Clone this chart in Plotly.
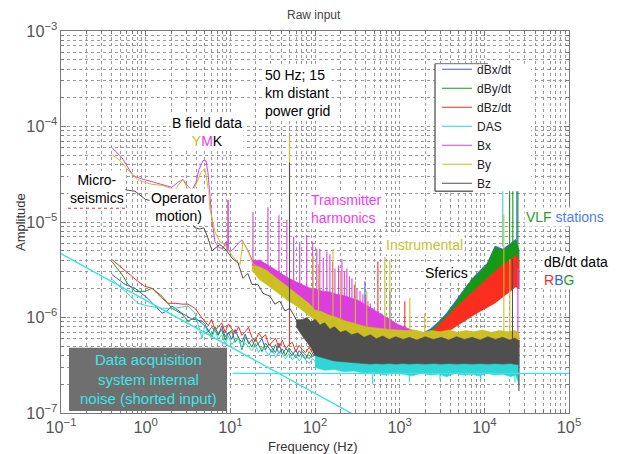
import plotly.graph_objects as go

FONT = "Liberation Sans, Arial, Helvetica, sans-serif"

# ---------------- colours ----------------
C_DBX = '#3a5ef6'
C_DBY = '#169a16'
C_DBZ = '#fb2d1f'
C_DAS = '#2fd6d6'
C_BX = '#dc3edc'
C_BY = '#cbbf22'
C_BZ = '#4f4f4f'

# ---------------- axis tick labels ----------------
x_tick_alias = {'1': '10<sup>0</sup>', '10': '10<sup>1</sup>'}

# ---------------- B field data (low frequency lines) ----------------
bx_f = [0.40, 0.525, 0.62, 0.71, 0.86, 1.06, 1.29, 1.6, 1.83, 2.04, 2.40, 2.76, 3.16, 3.52, 3.93, 4.26, 4.75,
        5.15, 5.44, 5.75, 6.07, 6.58, 7.33, 8.2, 8.87, 9.3, 9.4, 9.5, 9.9, 11.0, 12.0, 13.7, 15.7, 18.5, 21.2]
bx_a = [6.0e-5, 4.72e-5, 3.7e-5, 3.07e-5, 2.86e-5, 2.72e-5, 2.6e-5, 2.48e-5, 2.36e-5, 2.31e-5, 2.6e-5, 2.79e-5,
        2.36e-5, 2.15e-5, 2.6e-5, 3.54e-5, 4.39e-5, 4.39e-5, 3.3e-5, 1.73e-5, 1.05e-5, 6.2e-6, 5.4e-6, 5.25e-6,
        6.2e-6, 5.0e-6, 1.7e-5, 5.0e-6, 4.9e-6, 5.25e-6, 5.8e-6, 6.5e-6, 5.25e-6, 3.85e-6, 3.67e-6]

by_f = [0.40, 0.50, 0.585, 0.69, 0.81, 0.98, 1.19, 1.56, 1.83, 2.22, 2.47, 2.76, 3.07, 3.52, 4.03, 4.5, 5.0,
        5.44, 5.75, 6.58, 7.54, 8.63, 10.7, 13.0, 14.1, 15.7, 18.5, 22.3]
by_a = [5.07e-5, 4.39e-5, 3.7e-5, 3.15e-5, 2.79e-5, 2.6e-5, 2.48e-5, 2.42e-5, 2.31e-5, 2.15e-5, 2.48e-5, 2.79e-5,
        2.31e-5, 1.95e-5, 2.6e-5, 3.3e-5, 3.63e-5, 2.31e-5, 1.36e-5, 7.9e-6, 6.2e-6, 5.8e-6, 4.34e-6, 3.58e-6,
        6.2e-6, 5.25e-6, 3.67e-6, 3.26e-6]

bz_f = [0.43, 0.525, 0.62, 0.75, 0.86, 0.99, 1.19, 1.40, 1.56, 1.83, 2.16, 2.47, 2.76, 3.07, 3.43, 3.82, 4.37,
        4.88, 5.44, 6.07, 6.76, 7.54, 8.63, 9.6, 10.7, 12.3, 14.1, 16.1, 18.0, 21.2, 24.3, 29.4, 33.6, 38.5,
        44.2, 50.6, 61, 72, 87, 105, 124, 138]
bz_a = [2.31e-5, 2.2e-5, 2.15e-5, 2.1e-5, 1.9e-5, 1.73e-5, 1.65e-5, 1.5e-5, 1.36e-5, 1.33e-5, 1.36e-5, 1.47e-5,
        1.5e-5, 1.21e-5, 1.02e-5, 8.7e-6, 8.45e-6, 8.7e-6, 6.8e-6, 5.0e-6, 5.4e-6, 5.8e-6, 5.25e-6, 4.6e-6,
        4.1e-6, 3.75e-6, 2.57e-6, 2.89e-6, 2.22e-6, 2.22e-6, 1.79e-6, 1.67e-6, 1.38e-6, 1.48e-6, 1.17e-6,
        1.25e-6, 9.2e-7, 7.8e-7, 8.57e-7, 6.75e-7, 7.2e-7, 6.1e-7]

# ---------------- dB/dt and DAS data (low frequency lines) ----------------
dbx_f_low = [0.40, 0.57, 0.75, 1.06, 1.56, 1.78, 2.04, 2.68, 3.52, 4.62]
dbx_a_low = [2.82e-6, 2.22e-6, 2.02e-6, 1.59e-6, 1.11e-6, 1.17e-6, 1.32e-6, 1.11e-6, 9.65e-7, 9.2e-7]
dby_f_low = [0.40, 0.47, 0.525, 0.62, 0.75, 0.98, 1.19, 1.56, 2.04, 2.68, 3.16, 3.82, 4.62]
dby_a_low = [3.85e-6, 3.18e-6, 2.82e-6, 2.22e-6, 1.88e-6, 1.88e-6, 2.02e-6, 1.67e-6, 1.25e-6, 1.09e-6, 9.2e-7,
             9.9e-7, 8.8e-7]
dbz_f_low = [0.40, 0.50, 0.62, 0.81, 0.98, 1.19, 1.56, 1.83, 2.22, 2.68, 3.16, 3.82, 4.62]
dbz_a_low = [4.04e-6, 3.42e-6, 2.89e-6, 2.39e-6, 2.12e-6, 2.02e-6, 1.59e-6, 1.41e-6, 1.41e-6, 1.38e-6, 1.38e-6,
             1.25e-6, 9.9e-7]
das_f_low = [0.40, 0.62, 0.81, 1.06, 1.56, 2.22, 3.16, 3.82, 4.14, 4.62]
das_a_low = [2.51e-6, 1.75e-6, 1.41e-6, 1.32e-6, 1.25e-6, 1.25e-6, 1.32e-6, 1.11e-6, 8.8e-7, 6.1e-7]

# noisy part 5 Hz - 100 Hz
noise_f = [5.0, 5.5, 6.0, 6.6, 7.2, 7.9, 8.7, 9.5, 10.4, 11.4, 12.5, 13.7, 15.0, 16.4, 18.0, 19.7, 21.6, 23.7,
           26.0, 28.5, 31.2, 34.2, 37.5, 41.1, 45.0, 49.3, 54.0, 59.2, 64.9, 71.1, 77.9, 85.4, 93.6, 102.6]
dbx_noise = [8.6e-7, 7.1e-7, 7.9e-7, 7.3e-7, 6.5e-7, 8.1e-7, 6.3e-7, 7.0e-7, 5.9e-7, 7.5e-7, 6.1e-7, 5.5e-7,
             6.7e-7, 5.3e-7, 5.9e-7, 4.9e-7, 5.4e-7, 6.0e-7, 4.6e-7, 5.3e-7, 4.8e-7, 4.3e-7, 5.4e-7, 4.1e-7,
             4.7e-7, 4.4e-7, 4.0e-7, 4.6e-7, 3.9e-7, 4.4e-7, 4.0e-7, 3.7e-7, 4.2e-7, 3.9e-7]
dby_noise = [8.2e-7, 7.4e-7, 6.4e-7, 8.0e-7, 6.6e-7, 7.5e-7, 5.8e-7, 6.9e-7, 7.3e-7, 5.5e-7, 6.3e-7, 4.6e-7,
             6.2e-7, 5.6e-7, 4.9e-7, 6.0e-7, 5.1e-7, 4.4e-7, 5.4e-7, 4.8e-7, 4.3e-7, 5.2e-7, 4.2e-7, 4.7e-7,
             4.0e-7, 4.8e-7, 4.3e-7, 3.8e-7, 4.5e-7, 4.1e-7, 3.7e-7, 4.4e-7, 3.9e-7, 4.1e-7]
dbz_noise = [9.0e-7, 8.2e-7, 9.6e-7, 7.4e-7, 7.9e-7, 8.8e-7, 7.0e-7, 8.6e-7, 7.6e-7, 6.8e-7, 8.0e-7, 6.5e-7,
             7.1e-7, 7.9e-7, 6.2e-7, 5.6e-7, 6.9e-7, 6.1e-7, 6.6e-7, 5.1e-7, 5.5e-7, 6.1e-7, 4.8e-7, 5.8e-7,
             4.7e-7, 5.2e-7, 5.5e-7, 4.4e-7, 5.1e-7, 4.6e-7, 4.3e-7, 4.9e-7, 4.2e-7, 4.5e-7]
das_noise = [8.2e-7, 6.8e-7, 6.1e-7, 7.5e-7, 5.9e-7, 6.6e-7, 5.3e-7, 6.4e-7, 5.2e-7, 5.8e-7, 6.1e-7, 4.7e-7,
             5.4e-7, 4.9e-7, 4.5e-7, 5.1e-7, 4.3e-7, 4.9e-7, 4.5e-7, 4.0e-7, 4.7e-7, 3.8e-7, 4.4e-7, 4.1e-7,
             3.7e-7, 4.2e-7, 3.6e-7, 4.1e-7, 3.5e-7, 3.9e-7, 3.6e-7, 3.3e-7, 3.7e-7, 3.4e-7]

# ---------------- high frequency envelopes (100 Hz - 25.6 kHz) ----------------
hf_f = [100, 130, 170, 220, 290, 380, 500, 650, 850, 1100, 1400, 1800, 2300, 2900, 3600, 4500, 5600, 7000,
        8700, 10800, 13400, 16600, 20500, 23500, 25600]
dbx_hi = [5.1e-7, 4.8e-7, 4.9e-7, 4.7e-7, 4.8e-7, 4.6e-7, 4.8e-7, 4.7e-7, 5.0e-7, 5.4e-7, 6.0e-7, 6.8e-7, 7.6e-7,
          9.1e-7, 1.12e-6, 1.46e-6, 1.92e-6, 2.5e-6, 3.05e-6, 3.7e-6, 5.6e-6, 5.2e-6, 6.0e-6, 6.6e-6, 5.1e-6]
dbx_lo = [3.3e-7, 3.2e-7, 3.3e-7, 3.2e-7, 3.3e-7, 3.2e-7, 3.3e-7, 3.2e-7, 3.3e-7, 3.2e-7, 3.3e-7, 3.3e-7, 4.3e-7,
          6.0e-7, 7.2e-7, 8.2e-7, 9.2e-7, 1.04e-6, 1.17e-6, 1.3e-6, 1.45e-6, 1.7e-6, 1.95e-6, 2.15e-6, 2.05e-6]
dby_hi = [4.9e-7, 4.6e-7, 4.7e-7, 4.5e-7, 4.6e-7, 4.4e-7, 4.6e-7, 4.5e-7, 4.8e-7, 5.2e-7, 5.8e-7, 6.5e-7, 7.3e-7,
          8.8e-7, 1.07e-6, 1.4e-6, 1.85e-6, 2.45e-6, 2.95e-6, 3.6e-6, 5.5e-6, 5.0e-6, 5.8e-6, 6.4e-6, 5.0e-6]
dby_lo = [3.3e-7, 3.2e-7, 3.3e-7, 3.2e-7, 3.3e-7, 3.2e-7, 3.3e-7, 3.2e-7, 3.3e-7, 3.2e-7, 3.3e-7, 3.3e-7, 4.3e-7,
          6.0e-7, 7.2e-7, 8.2e-7, 9.2e-7, 1.04e-6, 1.17e-6, 1.3e-6, 1.45e-6, 1.7e-6, 1.95e-6, 2.15e-6, 2.05e-6]
dbz_hi = [5.4e-7, 5.6e-7, 5.3e-7, 5.5e-7, 5.4e-7, 5.6e-7, 5.5e-7, 5.7e-7, 5.6e-7, 5.9e-7, 6.0e-7, 6.3e-7, 6.9e-7,
          8.3e-7, 1.0e-6, 1.25e-6, 1.5e-6, 1.8e-6, 2.15e-6, 2.55e-6, 3.05e-6, 3.6e-6, 4.0e-6, 4.5e-6, 4.0e-6]
dbz_lo = [3.4e-7, 3.3e-7, 3.4e-7, 3.3e-7, 3.4e-7, 3.3e-7, 3.4e-7, 3.3e-7, 3.4e-7, 3.3e-7, 3.4e-7, 3.6e-7, 4.2e-7,
          5.8e-7, 7.0e-7, 8.0e-7, 9.0e-7, 1.02e-6, 1.15e-6, 1.27e-6, 1.42e-6, 1.65e-6, 1.9e-6, 2.1e-6, 2.0e-6]
das_hi = [4.4e-7, 4.1e-7, 4.0e-7, 3.8e-7, 3.8e-7, 3.6e-7, 3.6e-7, 3.5e-7, 3.5e-7, 3.4e-7, 3.45e-7, 3.35e-7,
          3.45e-7, 3.35e-7, 3.4e-7, 3.3e-7, 3.45e-7, 3.35e-7, 3.4e-7, 3.3e-7, 3.45e-7, 3.35e-7, 3.4e-7, 3.3e-7,
          3.2e-7]
das_lo = [3.0e-7, 2.8e-7, 2.85e-7, 2.7e-7, 2.75e-7, 2.6e-7, 2.65e-7, 2.5e-7, 2.6e-7, 2.55e-7, 2.45e-7, 2.6e-7,
          2.5e-7, 2.55e-7, 2.4e-7, 2.6e-7, 2.5e-7, 2.55e-7, 2.45e-7, 2.6e-7, 2.5e-7, 2.55e-7, 2.4e-7, 2.5e-7,
          2.0e-7]

b_band_f = [18, 22, 27, 33, 40, 48, 58, 70, 85, 100, 120, 150, 180, 220, 270, 330, 400, 500, 620, 760, 950,
            1200, 1500, 1900, 2400, 3000, 3800, 4800, 6000, 7500, 9500, 12000, 15000, 19000, 23000, 25600]
bx_hi = [3.9e-6, 4.0e-6, 3.6e-6, 3.2e-6, 2.9e-6, 2.6e-6, 2.4e-6, 2.2e-6, 2.05e-6, 2.0e-6, 1.9e-6, 1.85e-6,
         1.75e-6, 1.7e-6, 1.6e-6, 1.5e-6, 1.35e-6, 1.2e-6, 1.05e-6, 9.5e-7, 8.5e-7, 7.8e-7, 7.2e-7, 6.9e-7,
         6.8e-7, 6.8e-7, 6.8e-7, 6.8e-7, 6.8e-7, 6.8e-7, 6.8e-7, 6.8e-7, 6.8e-7, 6.8e-7, 6.8e-7, 6.5e-7]
bx_lo = [3.5e-6, 2.9e-6, 2.3e-6, 2.0e-6, 1.8e-6, 1.6e-6, 1.45e-6, 1.3e-6, 1.15e-6, 1.05e-6, 9.5e-7, 8.5e-7,
         8.0e-7, 7.3e-7, 6.8e-7, 6.4e-7, 6.1e-7, 5.8e-7, 5.6e-7, 5.4e-7, 5.2e-7, 5.1e-7, 5.0e-7, 5.0e-7,
         5.0e-7, 5.0e-7, 5.0e-7, 5.0e-7, 5.0e-7, 5.0e-7, 5.0e-7, 5.0e-7, 5.0e-7, 5.0e-7, 5.0e-7, 5.0e-7]
by_hi = [3.5e-6, 3.4e-6, 3.1e-6, 2.7e-6, 2.4e-6, 2.1e-6, 1.85e-6, 1.6e-6, 1.4e-6, 1.2e-6, 1.15e-6, 1.05e-6,
         1.0e-6, 9.3e-7, 8.8e-7, 8.3e-7, 8.0e-7, 7.8e-7, 7.6e-7, 7.5e-7, 7.4e-7, 7.3e-7, 7.4e-7, 7.0e-7,
         7.3e-7, 7.1e-7, 7.4e-7, 7.0e-7, 7.3e-7, 7.1e-7, 7.4e-7, 7.0e-7, 7.3e-7, 7.1e-7, 7.3e-7, 6.8e-7]
by_lo = [3.1e-6, 2.5e-6, 2.2e-6, 1.95e-6, 1.7e-6, 1.5e-6, 1.35e-6, 1.2e-6, 1.05e-6, 9.3e-7, 8.5e-7, 7.8e-7,
         7.2e-7, 6.8e-7, 6.4e-7, 6.1e-7, 5.9e-7, 5.7e-7, 5.5e-7, 5.3e-7, 5.2e-7, 5.1e-7, 5.0e-7, 5.0e-7,
         5.0e-7, 5.0e-7, 5.0e-7, 5.0e-7, 5.0e-7, 5.0e-7, 5.0e-7, 5.0e-7, 5.0e-7, 5.0e-7, 5.0e-7, 5.0e-7]

bz_band_f = [60, 70, 80, 90, 100, 115, 130, 150, 170, 200, 230, 270, 320, 380, 450, 530, 630, 750, 900, 1100,
             1300, 1600, 2000, 2500, 3100, 3800, 4700, 5800, 7200, 8900, 11000, 13500, 16500, 20000, 23000, 25600]
bz_hi = [9.5e-7, 9.5e-7, 1.0e-6, 9.0e-7, 9.6e-7, 8.4e-7, 8.8e-7, 7.6e-7, 8.0e-7, 7.0e-7, 7.3e-7, 6.6e-7,
         6.9e-7, 6.2e-7, 6.6e-7, 6.0e-7, 6.4e-7, 5.9e-7, 6.3e-7, 5.9e-7, 6.2e-7, 5.8e-7, 6.3e-7, 5.9e-7,
         6.2e-7, 5.8e-7, 6.3e-7, 5.9e-7, 6.2e-7, 5.8e-7, 6.3e-7, 5.9e-7, 6.2e-7, 5.8e-7, 6.1e-7, 5.7e-7]
bz_lo = [8.0e-7, 6.5e-7, 5.5e-7, 4.8e-7, 4.0e-7, 3.9e-7, 3.75e-7, 3.6e-7, 3.5e-7, 3.45e-7, 3.4e-7, 3.35e-7,
         3.3e-7, 3.3e-7, 3.25e-7, 3.3e-7, 3.25e-7, 3.3e-7, 3.25e-7, 3.3e-7, 3.25e-7, 3.3e-7, 3.25e-7, 3.3e-7,
         3.25e-7, 3.3e-7, 3.25e-7, 3.3e-7, 3.25e-7, 3.3e-7, 3.25e-7, 3.3e-7, 3.25e-7, 3.3e-7, 3.25e-7, 3.2e-7]

# ---------------- spectral lines (frequency, bottom, top) ----------------
bx_spk_f = [18.5, 27.8, 37.5, 46.5, 56, 66, 80, 94, 105, 114, 125, 138, 150, 161, 172, 190, 208, 222, 238, 255,
            273, 292, 313, 340, 368, 395, 422, 450, 483, 550, 617, 24900]
bx_spk_lo = [3.5e-6, 3.0e-6, 2.6e-6, 2.4e-6, 2.2e-6, 2.1e-6, 2.0e-6, 1.9e-6, 1.8e-6, 1.8e-6, 1.7e-6, 1.7e-6,
             1.6e-6, 1.6e-6, 1.6e-6, 1.5e-6, 1.5e-6, 1.5e-6, 1.4e-6, 1.4e-6, 1.4e-6, 1.3e-6, 1.3e-6, 1.2e-6,
             1.2e-6, 1.1e-6, 1.1e-6, 1.0e-6, 1.0e-6, 9e-7, 8.5e-7, 6e-7]
bx_spk_hi = [1.27e-5, 1.43e-5, 1.18e-5, 1.05e-5, 7.0e-6, 6.2e-6, 7.3e-6, 6.2e-6, 5.25e-6, 5.25e-6, 4.2e-6,
             4.9e-6, 4.6e-6, 3.8e-6, 3.26e-6, 3.5e-6, 4.1e-6, 3.0e-6, 3.26e-6, 2.7e-6, 2.57e-6, 2.2e-6, 2.0e-6,
             1.9e-6, 1.75e-6, 1.6e-6, 1.48e-6, 1.4e-6, 1.25e-6, 1.17e-6, 1.1e-6, 3.3e-6]
by_spk_f = [50, 95, 110, 163, 200, 300, 409, 668, 766, 1318, 1980, 17000, 20000]
by_spk_lo = [2.0e-6, 1.2e-6, 1.15e-6, 1.0e-6, 9.5e-7, 8.5e-7, 8e-7, 7.6e-7, 7.5e-7, 7.3e-7, 7.1e-7, 7.1e-7, 7.1e-7]
by_spk_hi = [8.0e-5, 4.4e-6, 3.6e-6, 5.2e-6, 3.0e-6, 2.4e-6, 1.9e-6, 4.3e-6, 4.0e-6, 1.6e-6, 1.1e-6, 1.2e-5, 4.1e-6]
bz_spk_f = [50, 21500, 25600]
bz_spk_lo = [1.2e-6, 5.8e-7, 1.7e-7]
bz_spk_hi = [4.2e-5, 4.1e-6, 5.8e-7]
dbz_spk_f = [50, 553, 1150]
dbz_spk_lo = [5e-7, 5.5e-7, 6e-7]
dbz_spk_hi = [2.2e-6, 3.85e-6, 1.48e-6]
dby_spk_f = [19900, 21700, 24900]
dby_spk_lo = [5.5e-6, 5.9e-6, 5.0e-6]
dby_spk_hi = [3e-5, 3e-5, 3e-5]
dbx_spk_f = [389, 766, 24200]
dbx_spk_lo = [4.8e-7, 5e-7, 6e-6]
dbx_spk_hi = [2.39e-6, 1.88e-6, 3e-5]
das_spk_f = [16500, 480, 1300, 3000, 9000, 23000]
das_spk_lo = [5.5e-6, 2.0e-7, 2.1e-7, 2.2e-7, 2.2e-7, 2.1e-7]
das_spk_hi = [3e-5, 2.6e-7, 2.5e-7, 2.5e-7, 2.5e-7, 2.5e-7]

# ---------------- hand-drawn DAS noise guide lines ----------------
guide_diag_f = [0.1, 339]
guide_diag_a = [4.66e-6, 8.87e-8]
guide_flat_f = [10.7, 1e5]
guide_flat_a = [2.6e-7, 2.6e-7]

# =====================================================================
fig = go.Figure()


def add_series(name, color, xs, ys, band=None, spikes=None, lw=1.0):
    fig.add_trace(go.Scatter(x=xs, y=ys, mode='lines', name=name, legendgroup=name,
                             line=dict(color=color, width=lw), hoverinfo='skip'))
    if band is not None:
        bf, bhi, blo = band
        fig.add_trace(go.Scatter(x=bf + bf[::-1], y=bhi + blo[::-1], mode='lines', fill='toself',
                                 fillcolor=color, line=dict(color=color, width=0.6),
                                 legendgroup=name, showlegend=False, hoverinfo='skip'))
    if spikes is not None:
        sx, sy = [], []
        for f, lo, hi in zip(*spikes):
            sx += [f, f, None]
            sy += [lo, hi, None]
        fig.add_trace(go.Scatter(x=sx, y=sy, mode='lines', line=dict(color=color, width=1.1),
                                 legendgroup=name, showlegend=False, hoverinfo='skip'))


add_series('dBx/dt', C_DBX, dbx_f_low + noise_f, dbx_a_low + dbx_noise,
           band=(hf_f, dbx_hi, dbx_lo), spikes=(dbx_spk_f, dbx_spk_lo, dbx_spk_hi))
add_series('dBy/dt', C_DBY, dby_f_low + noise_f, dby_a_low + dby_noise,
           band=(hf_f, dby_hi, dby_lo), spikes=(dby_spk_f, dby_spk_lo, dby_spk_hi))
add_series('dBz/dt', C_DBZ, dbz_f_low + noise_f, dbz_a_low + dbz_noise,
           band=(hf_f, dbz_hi, dbz_lo), spikes=(dbz_spk_f, dbz_spk_lo, dbz_spk_hi))
add_series('DAS', C_DAS, das_f_low + noise_f, das_a_low + das_noise,
           band=(hf_f, das_hi, das_lo), spikes=(das_spk_f, das_spk_lo, das_spk_hi))
add_series('Bx', C_BX, bx_f, bx_a, band=(b_band_f, bx_hi, bx_lo), spikes=(bx_spk_f, bx_spk_lo, bx_spk_hi))
add_series('By', C_BY, by_f, by_a, band=(b_band_f, by_hi, by_lo), spikes=(by_spk_f, by_spk_lo, by_spk_hi))
add_series('Bz', C_BZ, bz_f, bz_a, band=(bz_band_f, bz_hi, bz_lo), spikes=(bz_spk_f, bz_spk_lo, bz_spk_hi))

for gx, gy in ((guide_diag_f, guide_diag_a), (guide_flat_f, guide_flat_a)):
    fig.add_trace(go.Scatter(x=gx, y=gy, mode='lines', line=dict(color='#3ce4e4', width=1.4),
                             showlegend=False, hoverinfo='skip'))

# ---------------- layout helpers (page pixel -> paper) ----------------
# the page body has an 8 px margin, so the figure is 8 px smaller on each side
L, R, T, B = 61, 569, 27, 413
FIG_W, FIG_H = 615, 446
OFF = 8


def px(x):
    return (x - L) / (R - L)


def py(y):
    return (B - y) / (B - T)


grid = dict(showgrid=True, gridcolor='#9a9a9a', griddash='dot', gridwidth=1)
axis_common = dict(
    showline=True, linecolor='#7a7a7a', linewidth=1, mirror='allticks',
    ticks='inside', ticklen=5, tickcolor='#7a7a7a', zeroline=False,
    minor=dict(ticks='inside', ticklen=3, tickcolor='#7a7a7a', dtick='D1', **grid),
    tickfont=dict(family=FONT, size=13, color='#555555'),
    exponentformat='power', **grid,
)

annotations = []


def note(text, x, y, xanchor='center', size=14, color='black', bg='white', align='center', angle=0):
    annotations.append(dict(text=text, x=px(x), y=py(y), xref='paper', yref='paper', xanchor=xanchor,
                            yanchor='middle', showarrow=False, align=align, textangle=angle,
                            font=dict(family=FONT, size=size, color=color), bgcolor=bg, borderpad=1))


note("50 Hz; 15<br>km distant<br>power grid", 263, 90, xanchor='left', align='left')
note("B field data<br><span style='color:#cbbf22'>Y</span><span style='color:#e83ee8'>M</span>K", 207, 129)
note("Micro-<br>seismics", 97, 187)
note("Operator<br>motion)", 179, 205)
note("Transmitter<br>harmonics", 309, 207, xanchor='left', align='left', color='#f03cf0')
note("<span style='color:#2e9a2e'>VLF</span> <span style='color:#4f7df5'>stations</span>", 524, 215,
     xanchor='left')
note("Instrumental", 384, 243, xanchor='left', color='#c9c030')
note("Sferics", 423, 272, xanchor='left')
note("dB/dt data<br><span style='color:#ff2a1a'>R</span><span style='color:#3060f0'>B</span>"
     "<span style='color:#1f9a1f'>G</span>", 542, 270, xanchor='left', align='left')
note("Data acquisition<br>system internal<br>noise (shorted input)", 148, 379, size=15, color='#3ae8e8',
     bg='rgba(0,0,0,0)')
note("Raw input", 314, 11, size=12, color='#444444', bg='rgba(0,0,0,0)')
note("Frequency (Hz)", 313, 447, size=13, color='#333333', bg='rgba(0,0,0,0)')
note("Amplitude", 20, 220, size=13, color='#333333', bg='rgba(0,0,0,0)', angle=-90)

shapes = [
    # legend panel
    dict(type='rect', xref='paper', yref='paper', x0=px(435), x1=px(531), y0=py(189), y1=py(60),
         fillcolor='white', line=dict(width=0), layer='above'),
    dict(type='line', xref='paper', yref='paper', x0=px(435), x1=px(435), y0=py(189), y1=py(60),
         line=dict(color='#6a6a6a', width=1.5), layer='above'),
    dict(type='line', xref='paper', yref='paper', x0=px(435), x1=px(473), y0=py(189), y1=py(189),
         line=dict(color='#6a6a6a', width=1.5), layer='above'),
    dict(type='line', xref='paper', yref='paper', x0=px(435), x1=px(488), y0=py(60), y1=py(60),
         line=dict(color='#8a8a8a', width=1.2), layer='above'),
    # grey box behind the DAS note
    dict(type='rect', xref='paper', yref='paper', x0=px(69), x1=px(227), y0=py(411), y1=py(347),
         fillcolor='#6f6f6f', line=dict(width=0), layer='above'),
    # spell-check squiggle under "seismics"
    dict(type='line', xref='paper', yref='paper', x0=px(68), x1=px(127), y0=py(206), y1=py(206),
         line=dict(color='#e03030', width=1.4, dash='dot'), layer='above'),
]

fig.update_layout(
    width=FIG_W, height=FIG_H,
    margin=dict(l=L - OFF, r=FIG_W + OFF - R, t=T - OFF, b=FIG_H + OFF - B),
    paper_bgcolor='white', plot_bgcolor='white',
    font=dict(family=FONT),
    xaxis=dict(type='log', range=[-1, 5], dtick=1, labelalias=x_tick_alias, **axis_common),
    yaxis=dict(type='log', range=[-7, -3], dtick=1, **axis_common),
    legend=dict(x=px(437), y=py(51), xanchor='left', yanchor='top', bgcolor='rgba(0,0,0,0)',
                borderwidth=0, font=dict(family=FONT, size=12, color='#222222'), tracegroupgap=0,
                itemwidth=30),
    annotations=annotations,
    shapes=shapes,
    showlegend=True,
)

fig.write_html("out.html")
